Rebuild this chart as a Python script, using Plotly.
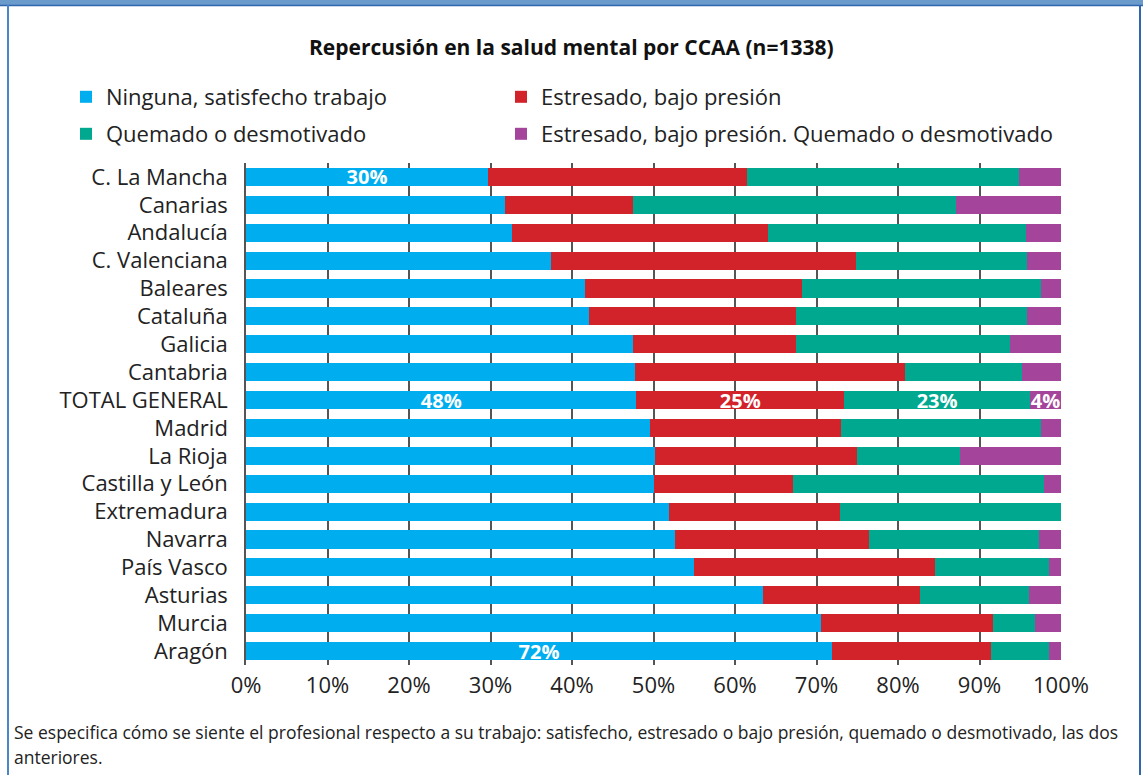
import plotly.graph_objects as go

categories = ["C. La Mancha", "Canarias", "Andalucía", "C. Valenciana", "Baleares", "Cataluña",
              "Galicia", "Cantabria", "TOTAL GENERAL", "Madrid", "La Rioja", "Castilla y León",
              "Extremadura", "Navarra", "País Vasco", "Asturias", "Murcia", "Aragón"]

ninguna =    [29.7, 31.8, 32.6, 37.4, 41.6, 42.1, 47.5, 47.7, 47.9, 49.6, 50.2, 50.0, 51.9, 52.6, 55.0, 63.4, 70.6, 71.9]
estresado =  [31.8, 15.7, 31.4, 37.4, 26.6, 25.4, 20.0, 33.2, 25.5, 23.4, 24.8, 17.1, 21.0, 23.8, 29.5, 19.3, 21.1, 19.5]
quemado =    [33.4, 39.6, 31.7, 21.0, 29.3, 28.3, 26.2, 14.3, 22.8, 24.5, 12.6, 30.8, 27.1, 20.9, 14.0, 13.4, 5.1, 7.1]
ambos =      [5.1, 12.9, 4.3, 4.2, 2.5, 4.2, 6.3, 4.8, 3.8, 2.5, 12.4, 2.1, 0.0, 2.7, 1.5, 3.9, 3.2, 1.5]

# data labels shown in the original
label_ninguna = ["30%", "", "", "", "", "", "", "", "48%", "", "", "", "", "", "", "", "", "72%"]
label_estresado = ["", "", "", "", "", "", "", "", "25%", "", "", "", "", "", "", "", "", ""]
label_quemado = ["", "", "", "", "", "", "", "", "23%", "", "", "", "", "", "", "", "", ""]
label_ambos = ["", "", "", "", "", "", "", "", "4%", "", "", "", "", "", "", "", "", ""]

series = [
    ("Ninguna, satisfecho trabajo", ninguna, label_ninguna, "#00AEEF", "legend"),
    ("Estresado, bajo presión", estresado, label_estresado, "#D2232A", "legend2"),
    ("Quemado o desmotivado", quemado, label_quemado, "#00A88F", "legend3"),
    ("Estresado, bajo presión. Quemado o desmotivado", ambos, label_ambos, "#A4449A", "legend4"),
]

FONT = "Open Sans"
W, H = 1143, 775

fig = go.Figure()
for name, vals, labels, color, lg in series:
    fig.add_trace(go.Bar(
        y=categories, x=vals, name=name, orientation="h",
        marker=dict(color=color, line=dict(width=0)),
        text=[f"<b>{t}</b>" if t else "" for t in labels],
        textposition="inside", insidetextanchor="middle",
        textangle=0, constraintext="none",
        textfont=dict(family=FONT, size=20, color="white"),
        legend=lg, hoverinfo="x+y+name",
    ))

x0, x1 = 246 / W, 1061 / W
y_top, y_bot = 1 - 163 / H, 1 - 665 / H

legend_common = dict(orientation="v", xanchor="left", yanchor="middle",
                     font=dict(family=FONT, size=22, color="#222222"),
                     bgcolor="rgba(0,0,0,0)", borderwidth=0,
                     itemclick=False, itemdoubleclick=False)

fig.update_layout(
    width=W, height=H,
    barmode="stack", bargap=0.35,
    paper_bgcolor="white", plot_bgcolor="white",
    margin=dict(l=0, r=0, t=0, b=0, pad=0, autoexpand=False),
    font=dict(family=FONT, color="#222222"),
    xaxis=dict(domain=[x0, x1], range=[0, 100], tickvals=[0, 10, 20, 30, 40, 50, 60, 70, 80, 90, 100],
               ticktext=["0%", "10%", "20%", "30%", "40%", "50%", "60%", "70%", "80%", "90%", "100%"],
               showgrid=True, gridcolor="#555555", gridwidth=1.5, zeroline=False,
               tickfont=dict(family=FONT, size=22, color="#222222"), ticks="", ticklabelstandoff=5,
               showline=False, fixedrange=True, automargin=False),
    yaxis=dict(domain=[y_bot, y_top], categoryorder="array", categoryarray=categories[::-1],
               showgrid=False, showline=True, linecolor="#555555", linewidth=1.5,
               tickfont=dict(family=FONT, size=22, color="#222222"), ticks="",
               ticklabelstandoff=12, fixedrange=True, automargin=False),
    legend=dict(x=66 / W, y=1 - 97 / H, **legend_common),
    legend2=dict(x=501 / W, y=1 - 97 / H, **legend_common),
    legend3=dict(x=66 / W, y=1 - 134 / H, **legend_common),
    legend4=dict(x=501 / W, y=1 - 134 / H, **legend_common),
    showlegend=True,
)

fig.add_annotation(text="<b>Repercusión en la salud mental por CCAA (n=1338)</b>",
                   x=0.5, y=1 - 47 / H, xref="paper", yref="paper", showarrow=False,
                   xanchor="center", yanchor="middle", font=dict(family=FONT, size=21, color="#111111"))

fig.add_annotation(text="Se especifica cómo se siente el profesional respecto a su trabajo: satisfecho, estresado o bajo presión, quemado o desmotivado, las dos",
                   x=12 / W, y=1 - 732 / H, xref="paper", yref="paper", showarrow=False,
                   xanchor="left", yanchor="middle", font=dict(family=FONT, size=17.5, color="#222222"))
fig.add_annotation(text="anteriores.",
                   x=12 / W, y=1 - 757 / H, xref="paper", yref="paper", showarrow=False,
                   xanchor="left", yanchor="middle", font=dict(family=FONT, size=17.5, color="#222222"))

# frame
fig.add_shape(type="rect", xref="paper", yref="paper", x0=0, x1=1, y0=1 - 5 / H, y1=1,
              fillcolor="#6A9BCB", line=dict(width=0), layer="above")
fig.add_shape(type="line", xref="paper", yref="paper", x0=0, x1=1, y0=1 - 5.5 / H, y1=1 - 5.5 / H,
              line=dict(color="#2F66AE", width=1.5), layer="above")
fig.add_shape(type="line", xref="paper", yref="paper", x0=8 / W, x1=8 / W, y0=0, y1=1 - 5 / H,
              line=dict(color="#4A86C8", width=2), layer="above")
fig.add_shape(type="line", xref="paper", yref="paper", x0=1140 / W, x1=1140 / W, y0=0, y1=1 - 5 / H,
              line=dict(color="#2F66AE", width=2), layer="above")

fig.write_html("out.html", config={"displayModeBar": False},
               post_script="document.body.style.margin='0';document.body.style.overflow='hidden';")
